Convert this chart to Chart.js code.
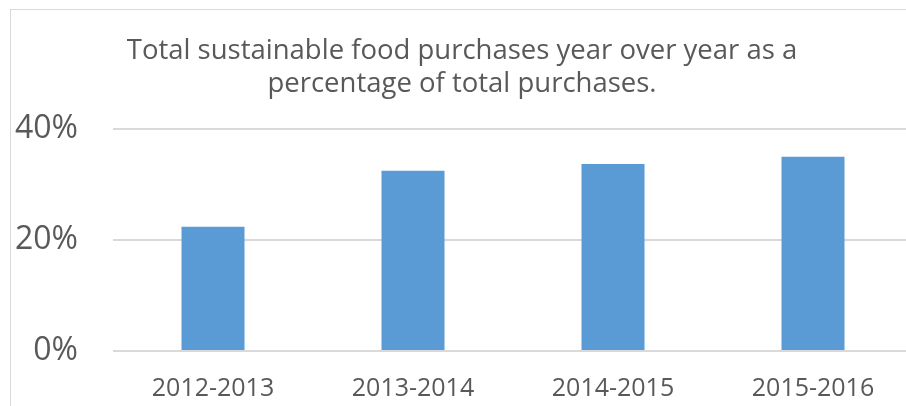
<!DOCTYPE html>
<html>
<head>
<meta charset="utf-8">
<script src="https://cdn.jsdelivr.net/npm/chart.js@4"></script>
<style>
  html, body { margin: 0; padding: 0; background: #fff; overflow: hidden; }
  #wrap { position: absolute; left: 10px; top: 9px; width: 904px; height: 420px; border: 1px solid #d9d9d9; }
</style>
</head>
<body>
<div id="wrap"><canvas id="purchaseChart"></canvas></div>
<script>
const years = ['2012-2013', '2013-2014', '2014-2015', '2015-2016'];
const sustainablePct = [22.4, 32.5, 33.7, 35.0];
const yTicks = [0, 20, 40];

const ctx = document.getElementById('purchaseChart').getContext('2d');
const purchaseChart = new Chart(ctx, {
    type: 'bar',
    data: {
        labels: years,
        datasets: [
            {
                label: 'Sustainable %',
                backgroundColor: '#5b9bd5',
                data: sustainablePct,
                barPercentage: 0.63,
                categoryPercentage: 0.5
            }
        ]
    },
    options: {
        responsive: true,
        maintainAspectRatio: false,
        animation: false,
        layout: { padding: { left: 0, right: 2, top: 0, bottom: 3 } },
        plugins: {
            legend: { display: false },
            tooltip: { enabled: false },
            title: {
                display: true,
                text: ['Total sustainable food purchases year over year as a', 'percentage of total purchases.'],
                color: '#595959',
                font: { family: 'Open Sans', size: 27.5, weight: 'normal', lineHeight: 1.2 },
                padding: { top: 25, bottom: 28 }
            }
        },
        scales: {
            x: {
                grid: { display: false, drawTicks: false },
                border: { display: false },
                ticks: { color: '#595959', font: { family: 'Open Sans', size: 25, lineHeight: 1.2 }, padding: 23 }
            },
            y: {
                min: 0,
                max: 40,
                afterBuildTicks: (axis) => { axis.ticks = yTicks.map(v => ({ value: v })); },
                afterFit: (axis) => { axis.width = 102; },
                grid: { color: '#d9d9d9', lineWidth: 2, drawTicks: false },
                border: { display: false },
                ticks: {
                    color: '#595959',
                    font: { family: 'Open Sans', size: 32 },
                    padding: 35,
                    callback: (v) => v + '%'
                }
            }
        }
    }
});
</script>
</body>
</html>
